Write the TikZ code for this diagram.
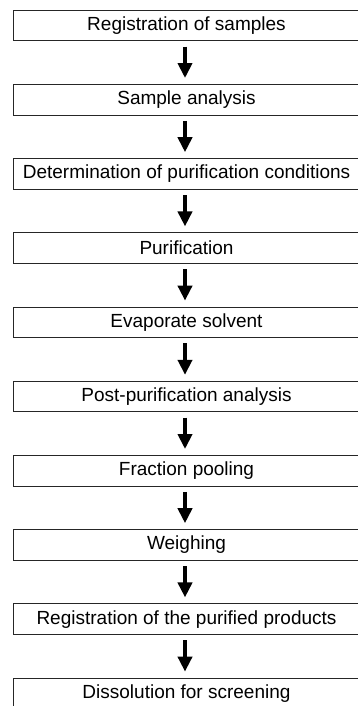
\documentclass[tikz,border=0pt]{standalone}
\usepackage{fontspec}
\setmainfont{Liberation Sans}
\usetikzlibrary{positioning,arrows.meta}

\newcommand\stepboxwidth{347pt}
\newcommand\stepboxheight{30.5pt}
\newcommand\stepgap{42.9pt}
\newcommand\steptextstyle{\fontsize{19}{22}\selectfont}

\tikzset{
  stepbox/.style={draw=black!85, line width=0.8pt, minimum width=\stepboxwidth,
    minimum height=\stepboxheight, inner sep=0pt, font=\steptextstyle},
  steparrow/.style={line width=4pt, -{Triangle[width=14pt,length=15pt]},
    shorten <=5.5pt, shorten >=6pt},
}

\begin{document}
\begin{tikzpicture}[x=1pt, y=1pt, node distance=\stepgap]
    \useasboundingbox (0,0) rectangle (358,706);
    \clip (0,0) rectangle (358,706);
    \node[stepbox] (reg) at (186.5, 680.5) {Registration of samples};
    \node[stepbox, below=of reg] (ana) {Sample analysis};
    \node[stepbox, below=of ana] (cond) {Determination of purification conditions};
    \node[stepbox, below=of cond] (pur) {Purification};
    \node[stepbox, below=of pur] (evap) {Evaporate solvent};
    \node[stepbox, below=of evap] (post) {Post-purification analysis};
    \node[stepbox, below=of post] (pool) {Fraction pooling};
    \node[stepbox, below=of pool] (weigh) {Weighing};
    \node[stepbox, below=of weigh] (regp) {Registration of the purified products};
    \node[stepbox, below=of regp] (diss) {Dissolution for screening};
    % arrows between steps
    \foreach \a/\b in {reg/ana, ana/cond, cond/pur, pur/evap, evap/post,
                       post/pool, pool/weigh, weigh/regp, regp/diss}
      \draw[steparrow] ([xshift=-1.5pt]\a.south) -- ([xshift=-1.5pt]\b.north) ;
\end{tikzpicture}
\end{document}
